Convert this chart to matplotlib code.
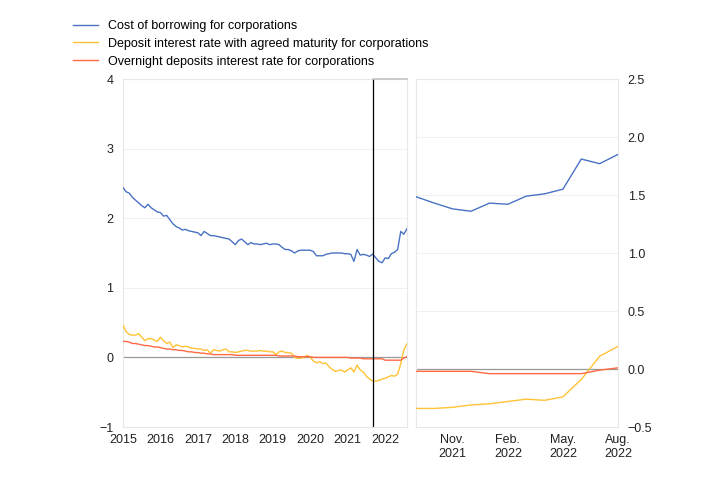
import matplotlib
matplotlib.use("Agg")
import matplotlib.pyplot as plt

plt.rcParams['font.family'] = ['Liberation Sans', 'DejaVu Sans']
plt.rcParams['font.size'] = 9

# monthly data, Jan 2015 (index 0) .. Aug 2022 (index 91)
borrowing = [
    2.44, 2.38, 2.36, 2.30, 2.26, 2.22, 2.18, 2.15, 2.20, 2.15, 2.12, 2.09,
    2.08, 2.03, 2.04, 1.98, 1.92, 1.88, 1.86, 1.83, 1.84, 1.82, 1.81, 1.80,
    1.79, 1.75, 1.81, 1.78, 1.75, 1.75, 1.74, 1.73, 1.72, 1.71, 1.70, 1.66,
    1.62, 1.68, 1.70, 1.66, 1.62, 1.65, 1.63, 1.63, 1.62, 1.63, 1.64, 1.62,
    1.63, 1.63, 1.62, 1.58, 1.55, 1.55, 1.53, 1.50, 1.53, 1.54, 1.54, 1.54,
    1.54, 1.52, 1.46, 1.46, 1.46, 1.48, 1.49, 1.50, 1.50, 1.50, 1.50, 1.49,
    1.49, 1.48, 1.38, 1.55, 1.47, 1.48, 1.47, 1.45, 1.485, 1.43, 1.38, 1.36,
    1.43, 1.42, 1.49, 1.51, 1.55, 1.81, 1.77, 1.85,
]
agreed = [
    0.46, 0.37, 0.33, 0.32, 0.32, 0.34, 0.29, 0.24, 0.27, 0.27, 0.25, 0.23,
    0.29, 0.24, 0.20, 0.22, 0.14, 0.18, 0.17, 0.15, 0.16, 0.15, 0.13, 0.13,
    0.12, 0.12, 0.10, 0.11, 0.06, 0.11, 0.10, 0.09, 0.11, 0.12, 0.08, 0.08,
    0.07, 0.08, 0.09, 0.10, 0.10, 0.09, 0.09, 0.09, 0.10, 0.09, 0.09, 0.08,
    0.08, 0.04, 0.08, 0.09, 0.07, 0.07, 0.06, 0.00, -0.015, -0.01, 0.00, 0.03,
    0.00, -0.05, -0.08, -0.06, -0.09, -0.08, -0.13, -0.17, -0.20, -0.19, -0.18, -0.21,
    -0.18, -0.15, -0.21, -0.11, -0.18, -0.21, -0.27, -0.31, -0.34, -0.34, -0.33, -0.31,
    -0.30, -0.28, -0.26, -0.27, -0.24, -0.09, 0.11, 0.195,
]
overnight = [
    0.23, 0.23, 0.22, 0.20, 0.20, 0.19, 0.18, 0.17, 0.17, 0.16, 0.15, 0.15,
    0.14, 0.13, 0.12, 0.12, 0.11, 0.11, 0.10, 0.10, 0.09, 0.08, 0.08, 0.07,
    0.07, 0.06, 0.06, 0.05, 0.05, 0.04, 0.04, 0.04, 0.04, 0.04, 0.04, 0.04,
    0.03, 0.03, 0.03, 0.03, 0.03, 0.03, 0.03, 0.03, 0.03, 0.03, 0.03, 0.03,
    0.03, 0.03, 0.02, 0.02, 0.02, 0.02, 0.02, 0.02, 0.01, 0.01, 0.01, 0.01,
    0.01, 0.00, 0.00, 0.00, 0.00, 0.00, 0.00, 0.00, 0.00, 0.00, 0.00, 0.00,
    0.00, -0.01, -0.01, -0.01, -0.01, -0.02, -0.02, -0.02, -0.02, -0.02, -0.02, -0.02,
    -0.04, -0.04, -0.04, -0.04, -0.04, -0.04, -0.01, 0.01,
]
months = list(range(len(borrowing)))
years = ['2015', '2016', '2017', '2018', '2019', '2020', '2021', '2022']
zoom_start = 80  # Sep 2021
zoom_ticks = [82, 85, 88, 91]
zoom_labels = ['Nov.\n2021', 'Feb.\n2022', 'May.\n2022', 'Aug.\n2022']

labels = ['Cost of borrowing for corporations',
          'Deposit interest rate with agreed maturity for corporations',
          'Overnight deposits interest rate for corporations']
colors = ['#4a72c4', '#ffc234', '#ff6a45']
series = [borrowing, agreed, overnight]

fig = plt.figure(figsize=(7.19, 4.92), dpi=100)
ax1 = fig.add_axes([123 / 719, 65 / 492, 284 / 719, 348 / 492])
ax2 = fig.add_axes([416 / 719, 65 / 492, 202 / 719, 348 / 492])

for ax in (ax1, ax2):
    for sp in ax.spines.values():
        sp.set_color('#e8e8e8')
        sp.set_linewidth(0.8)
    ax.tick_params(length=0, colors='#222222', labelsize=9)
    ax.grid(axis='y', color='#f0f0f0', linewidth=0.8)
    ax.set_axisbelow(True)
    ax.axhline(0, color='#999999', linewidth=0.9, zorder=1)

# left panel: whole period
handles = []
for s, c, lab in zip(series, colors, labels):
    h, = ax1.plot(months, s, color=c, linewidth=1.0, label=lab, zorder=3)
    handles.append(h)
ax1.set_xlim(0, 91)
ax1.set_ylim(-1, 4)
ax1.set_yticks([-1, 0, 1, 2, 3, 4])
ax1.set_xticks([12 * i for i in range(len(years))])
ax1.set_xticklabels(years)
ax1.tick_params(axis='y', pad=7)
ax1.tick_params(axis='x', pad=5)
# marker of the zoomed period
ax1.axvline(zoom_start, color='black', linewidth=0.9, zorder=4)
ax1.plot([zoom_start, 91], [4, 4], color='#c4c4c4', linewidth=1.2,
         zorder=4, clip_on=False)

# right panel: zoom on last 12 months
zm = months[zoom_start:]
for s, c in zip(series, colors):
    ax2.plot(zm, s[zoom_start:], color=c, linewidth=1.0, zorder=3)
ax2.set_xlim(zoom_start, 91)
ax2.set_ylim(-0.5, 2.5)
ax2.set_yticks([-0.5, 0, 0.5, 1.0, 1.5, 2.0, 2.5])
ax2.set_yticklabels(['\u22120.5', '0.0', '0.5', '1.0', '1.5', '2.0', '2.5'])
ax2.yaxis.tick_right()
ax2.set_xticks(zoom_ticks)
ax2.set_xticklabels(zoom_labels)
ax2.tick_params(axis='y', pad=7)
ax2.tick_params(axis='x', pad=5)

fig.legend(handles, labels, loc='upper left', bbox_to_anchor=(73 / 719, 1 - 20 / 492),
           frameon=False, borderpad=0, borderaxespad=0, handlelength=2.0,
           handletextpad=0.8, labelspacing=0.46, fontsize=9)

fig.savefig('out.png', dpi=100)
